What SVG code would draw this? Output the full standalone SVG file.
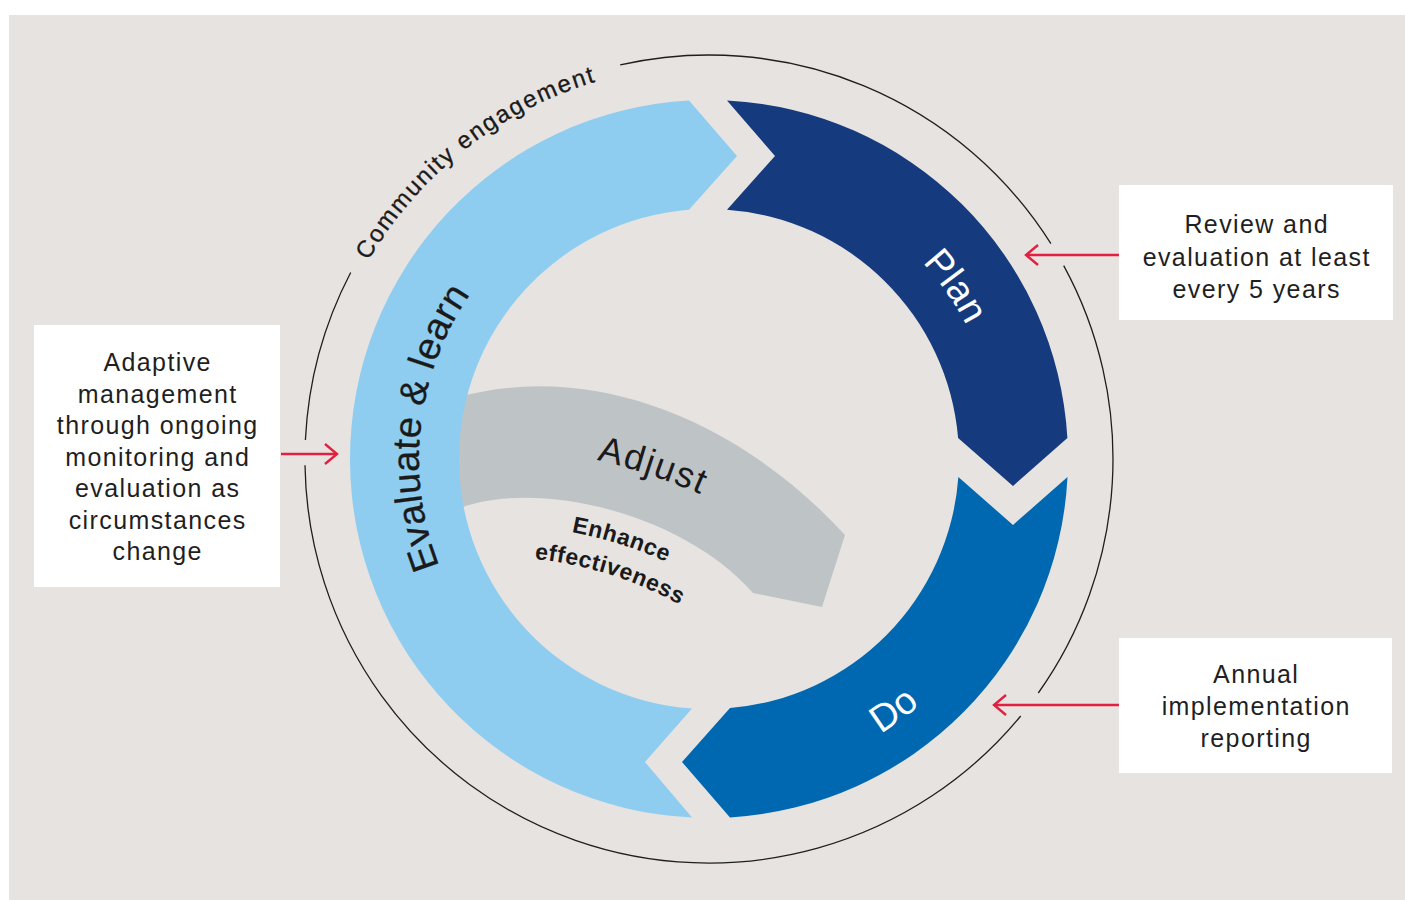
<svg xmlns="http://www.w3.org/2000/svg" width="1405" height="900" viewBox="0 0 1405 900">
<style>
.ring-line{fill:none;stroke:#1f1f1f;stroke-width:1.3}
.box{fill:#ffffff}
.boxtxt{font-family:"Liberation Sans",Arial,sans-serif;font-size:25px;letter-spacing:1.4px;fill:#1f1f1f;text-anchor:middle}
.big{font-family:"Liberation Sans",Arial,sans-serif;font-size:38px;letter-spacing:0.4px}
.arrow{fill:none;stroke:#e2203f;stroke-width:2.4}
</style>
<defs>
<marker id="chev" markerUnits="userSpaceOnUse" viewBox="0 0 16 24" refX="14" refY="12" markerWidth="16" markerHeight="24" orient="auto">
<path d="M2,2 L14,12 L2,22" fill="none" stroke="#e2203f" stroke-width="2.4"/>
</marker>
<path id="pEval" d="M467.2,619.1 A290 290 0 0 1 509.4,248.6"/>
<path id="pPlan" d="M784.1,178.9 A290 290 0 0 1 997.9,484.3"/>
<path id="pDo" d="M688.4,782.3 A324 324 0 0 0 1023.9,535.5"/>
<path id="pComm" d="M323.4,378.1 A394 394 0 0 1 721.7,65.2"/>
<path id="pAdj" d="M443.9,444.6 A600 600 0 0 1 833.4,574.2"/>
<path id="pEnh" d="M408,534.6 A410 410 0 0 1 798.8,658.5"/>
<path id="pEff" d="M414.2,566 A378 378 0 0 1 774.7,679.6"/>
</defs>
<rect x="0" y="0" width="1405" height="900" fill="#ffffff"/>
<rect x="9" y="15" width="1396" height="885" fill="#e6e3e1"/>

<g id="community-engagement">
<path class="ring-line" d="M620.2,64.9 A404 404 0 0 1 1050.9,243.7"/>
<path class="ring-line" d="M1063.7,265.6 A404 404 0 0 1 1038.3,693"/>
<path class="ring-line" d="M1020.7,716 A404 404 0 0 1 305,465.3"/>
<path class="ring-line" d="M305.4,440 A404 404 0 0 1 350.7,272.5"/>
<text font-family="Liberation Sans,Arial,sans-serif" font-size="24" letter-spacing="1.8" fill="#1a1a1a" stroke="#1a1a1a" stroke-width="0.3"><textPath href="#pComm" startOffset="50%" text-anchor="middle">Community engagement</textPath></text>
</g>

<g id="adjust">
<path d="M455,398 C580,362 730,410 845,535 L822,607 L753,593 C680,510 530,478 455,510 Z" fill="#bec3c6"/>
<text font-family="Liberation Sans,Arial,sans-serif" font-size="36" letter-spacing="1.8" fill="#1a1a1a"><textPath href="#pAdj" startOffset="50%" text-anchor="middle">Adjust</textPath></text>
<text font-family="Liberation Sans,Arial,sans-serif" font-size="23" font-weight="bold" letter-spacing="0.6" fill="#1a1a1a"><textPath href="#pEnh" startOffset="50%" text-anchor="middle">Enhance</textPath></text>
<text font-family="Liberation Sans,Arial,sans-serif" font-size="23" font-weight="bold" letter-spacing="0.6" fill="#1a1a1a"><textPath href="#pEff" startOffset="50%" text-anchor="middle">effectiveness</textPath></text>
</g>

<g id="evaluate-learn">
<path d="M689,100.56 L737,156 L689,209.8 A250 250 0 0 0 692,708.42 L645,762 L692,817.6 A359 359 0 0 1 689,100.56 Z" fill="#8fcdf0"/>
<text class="big" fill="#1a1a1a" stroke="#1a1a1a" stroke-width="0.3"><textPath href="#pEval" startOffset="50%" text-anchor="middle">Evaluate &amp; learn</textPath></text>
</g>

<g id="plan">
<path d="M727,100.45 A359 359 0 0 1 1067.4,438 L1013,486 L958.1,438 A250 250 0 0 0 727,209.65 L775,156 Z" fill="#163a7e"/>
<text class="big" fill="#ffffff"><textPath href="#pPlan" startOffset="50%" text-anchor="middle">Plan</textPath></text>
</g>

<g id="do">
<path d="M1067.5,477 A359 359 0 0 1 730,817.4 L682,762 L730,708.1 A250 250 0 0 0 958.35,477 L1013,525 Z" fill="#0068b1"/>
<text class="big" fill="#ffffff"><textPath href="#pDo" startOffset="50%" text-anchor="middle">Do</textPath></text>
</g>

<g id="box-adaptive">
<rect class="box" x="34" y="325" width="246" height="262"/>
<text class="boxtxt"><tspan x="157.7" y="371">Adaptive</tspan><tspan x="157.7" y="402.5">management</tspan><tspan x="157.7" y="434">through ongoing</tspan><tspan x="157.7" y="465.5">monitoring and</tspan><tspan x="157.7" y="497">evaluation as</tspan><tspan x="157.7" y="528.5">circumstances</tspan><tspan x="157.7" y="560">change</tspan></text>
</g>

<g id="box-review">
<rect class="box" x="1119" y="185" width="274" height="135"/>
<text class="boxtxt"><tspan x="1256.7" y="233.3">Review and</tspan><tspan x="1256.7" y="265.5">evaluation at least</tspan><tspan x="1256.7" y="297.7">every 5 years</tspan></text>
</g>

<g id="box-annual">
<rect class="box" x="1119" y="638" width="273" height="135"/>
<text class="boxtxt"><tspan x="1256.2" y="683.3">Annual</tspan><tspan x="1256.2" y="715.3">implementation</tspan><tspan x="1256.2" y="747.3">reporting</tspan></text>
</g>

<g id="connectors">
<line class="arrow" x1="281" y1="454" x2="337" y2="454" marker-end="url(#chev)"/>
<line class="arrow" x1="1119" y1="255" x2="1026" y2="255" marker-end="url(#chev)"/>
<line class="arrow" x1="1119" y1="705" x2="994" y2="705" marker-end="url(#chev)"/>
</g>
</svg>
